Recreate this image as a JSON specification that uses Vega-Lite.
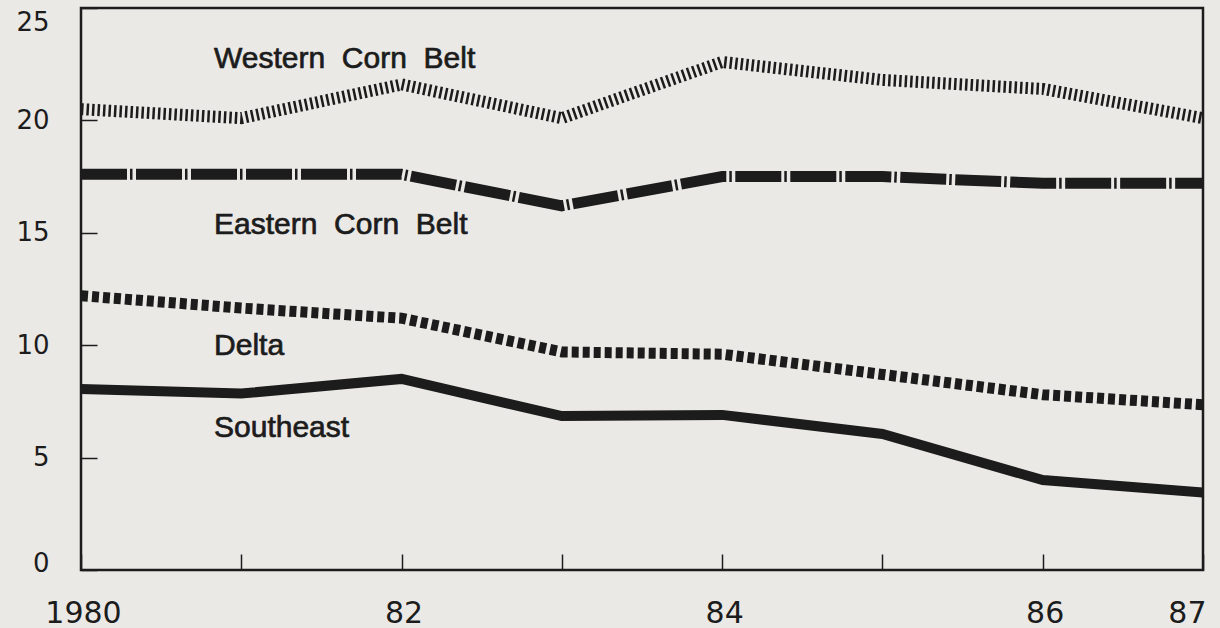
{
  "$schema": "https://vega.github.io/schema/vega-lite/v6.json",
  "width": 1122,
  "height": 562,
  "autosize": {"type": "none"},
  "padding": {"left": 81, "top": 8, "right": 17, "bottom": 58},
  "background": "#ebe9e6",
  "config": {
    "view": {"stroke": "#1c1c1c", "strokeWidth": 2.5},
    "axis": {"grid": false, "domain": false, "title": null, "tickColor": "#1c1c1c", "tickWidth": 1.5, "labelColor": "#1c1c1c"}
  },
  "datasets": {
    "series": [
      {"region": "Western Corn Belt", "year": 1980, "value": 20.5},
      {"region": "Western Corn Belt", "year": 1981, "value": 20.1},
      {"region": "Western Corn Belt", "year": 1982, "value": 21.6},
      {"region": "Western Corn Belt", "year": 1983, "value": 20.1},
      {"region": "Western Corn Belt", "year": 1984, "value": 22.6},
      {"region": "Western Corn Belt", "year": 1985, "value": 21.8},
      {"region": "Western Corn Belt", "year": 1986, "value": 21.4},
      {"region": "Western Corn Belt", "year": 1987, "value": 20.1},
      {"region": "Eastern Corn Belt", "year": 1980, "value": 17.6},
      {"region": "Eastern Corn Belt", "year": 1981, "value": 17.6},
      {"region": "Eastern Corn Belt", "year": 1982, "value": 17.6},
      {"region": "Eastern Corn Belt", "year": 1983, "value": 16.2},
      {"region": "Eastern Corn Belt", "year": 1984, "value": 17.5},
      {"region": "Eastern Corn Belt", "year": 1985, "value": 17.5},
      {"region": "Eastern Corn Belt", "year": 1986, "value": 17.2},
      {"region": "Eastern Corn Belt", "year": 1987, "value": 17.2},
      {"region": "Delta", "year": 1980, "value": 12.2},
      {"region": "Delta", "year": 1981, "value": 11.65},
      {"region": "Delta", "year": 1982, "value": 11.2},
      {"region": "Delta", "year": 1983, "value": 9.7},
      {"region": "Delta", "year": 1984, "value": 9.6},
      {"region": "Delta", "year": 1985, "value": 8.7},
      {"region": "Delta", "year": 1986, "value": 7.8},
      {"region": "Delta", "year": 1987, "value": 7.35},
      {"region": "Southeast", "year": 1980, "value": 8.05},
      {"region": "Southeast", "year": 1981, "value": 7.85},
      {"region": "Southeast", "year": 1982, "value": 8.5},
      {"region": "Southeast", "year": 1983, "value": 6.85},
      {"region": "Southeast", "year": 1984, "value": 6.9},
      {"region": "Southeast", "year": 1985, "value": 6.05},
      {"region": "Southeast", "year": 1986, "value": 4.0},
      {"region": "Southeast", "year": 1987, "value": 3.45}
    ],
    "labels": [
      {"label": "Western\u00a0 Corn\u00a0 Belt", "year": 1980.83, "value": 22.75},
      {"label": "Eastern\u00a0 Corn\u00a0 Belt", "year": 1980.83, "value": 15.35},
      {"label": "Delta", "year": 1980.83, "value": 9.95},
      {"label": "Southeast", "year": 1980.83, "value": 6.3}
    ]
  },
  "layer": [
    {
      "data": {"name": "series"},
      "transform": [{"filter": "datum.region == 'Southeast'"}],
      "mark": {"type": "line", "color": "#1c1c1c", "strokeWidth": 10, "strokeJoin": "miter", "clip": true},
      "encoding": {
        "x": {"field": "year", "type": "quantitative", "scale": {"domain": [1980, 1987], "nice": false, "zero": false},
          "axis": {"values": [1980, 1981, 1982, 1983, 1984, 1985, 1986, 1987], "tickSize": -16, "labelPadding": 44,
            "labelFont": "DejaVu Sans", "labelFontSize": 30,
            "labelAlign": {"condition": {"test": "datum.value == 1987", "value": "right"}, "value": "center"},
            "labelOffset": {"condition": {"test": "datum.value == 1987", "value": 3}, "value": 2},
            "labelExpr": "datum.value == 1980 ? '1980' : (datum.value == 1982 || datum.value == 1984 || datum.value == 1986 || datum.value == 1987) ? format(datum.value % 100, 'd') : ''"}},
        "y": {"field": "value", "type": "quantitative", "scale": {"domain": [0, 25], "nice": false},
          "axis": {"values": [0, 5, 10, 15, 20, 25], "tickSize": -16, "labelPadding": 48,
            "labelFont": "DejaVu Sans", "labelFontSize": 26,
            "labelOffset": {"condition": [{"test": "datum.value == 25", "value": 14}, {"test": "datum.value == 0", "value": -7}], "value": 0}}}
      }
    },
    {
      "data": {"name": "series"},
      "transform": [{"filter": "datum.region == 'Delta'"}],
      "mark": {"type": "line", "color": "#1c1c1c", "strokeWidth": 11, "strokeDash": [7, 4], "strokeCap": "butt", "clip": true},
      "encoding": {"x": {"field": "year", "type": "quantitative"}, "y": {"field": "value", "type": "quantitative"}}
    },
    {
      "data": {"name": "series"},
      "transform": [{"filter": "datum.region == 'Eastern Corn Belt'"}],
      "mark": {"type": "line", "color": "#1c1c1c", "strokeWidth": 11, "strokeDash": [46, 3, 2.5, 3.5], "strokeCap": "butt", "clip": true},
      "encoding": {"x": {"field": "year", "type": "quantitative"}, "y": {"field": "value", "type": "quantitative"}}
    },
    {
      "data": {"name": "series"},
      "transform": [{"filter": "datum.region == 'Western Corn Belt'"}],
      "mark": {"type": "line", "color": "#1c1c1c", "strokeWidth": 12, "strokeDash": [2.5, 3], "strokeCap": "butt", "clip": true},
      "encoding": {"x": {"field": "year", "type": "quantitative"}, "y": {"field": "value", "type": "quantitative"}}
    },
    {
      "data": {"name": "labels"},
      "mark": {"type": "text", "align": "left", "baseline": "middle", "font": "Liberation Sans", "fontSize": 30, "color": "#1c1c1c", "stroke": "#1c1c1c", "strokeWidth": 0.7},
      "encoding": {
        "x": {"field": "year", "type": "quantitative"},
        "y": {"field": "value", "type": "quantitative"},
        "text": {"field": "label"}
      }
    }
  ]
}
